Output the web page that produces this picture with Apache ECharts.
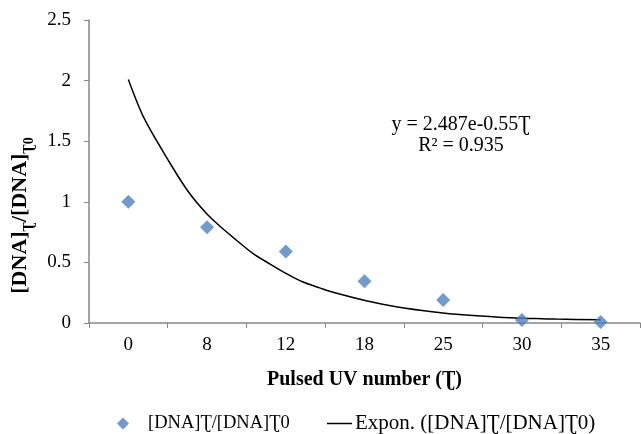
<!DOCTYPE html>
<html>
<head>
<meta charset="utf-8">
<script src="https://cdn.jsdelivr.net/npm/echarts@6/dist/echarts.min.js"></script>
<style>html,body{margin:0;padding:0;background:#fff}#c{width:641px;height:434px}</style>
</head>
<body>
<div id="c"></div>
<script>
var categories = ['0', '8', '12', '18', '25', '30', '35'];
var ratioValues = [1.0, 0.79, 0.59, 0.345, 0.19, 0.025, 0.008];
// trendline: [category position, value]
var trendX = [0, 0.2, 0.53, 0.76, 0.99, 1.16, 1.37, 1.58, 1.79, 2.0, 2.21, 2.43, 2.6, 3.02, 3.44, 3.86, 4.29, 4.71, 5.13, 5.43, 6.0];
var trendY = [2.01, 1.69, 1.318, 1.085, 0.905, 0.80, 0.685, 0.575, 0.49, 0.41, 0.34, 0.29, 0.253, 0.184, 0.13, 0.093, 0.065, 0.048, 0.038, 0.032, 0.027];
var yTicks = [0, 0.5, 1, 1.5, 2, 2.5];
var TAU = '\u01AE';
var seriesName = '[DNA]' + TAU + '/[DNA]' + TAU + '0';
var trendName = 'Expon. ([DNA]' + TAU + '/[DNA]' + TAU + '0)';

var trendData = trendX.map(function (x, i) { return [x, trendY[i]]; });
var FONT = 'Liberation Serif';
var AXIS = '#868686';

var chart = echarts.init(document.getElementById('c'), null, {renderer: 'canvas'});
chart.setOption({
  animation: false,
  textStyle: {fontFamily: FONT},
  grid: {left: 89, right: 1, top: 20, bottom: 111},
  xAxis: [{
    type: 'category',
    data: categories,
    boundaryGap: true,
    axisLine: {lineStyle: {color: AXIS, width: 1.5}},
    axisTick: {show: true, length: 5, lineStyle: {color: AXIS}},
    axisLabel: {color: '#000', fontSize: 19, fontFamily: FONT, margin: 13},
    name: 'Pulsed UV number (' + TAU + ')',
    nameLocation: 'middle',
    nameGap: 47,
    nameTextStyle: {color: '#000', fontSize: 20, fontWeight: 'bold', fontFamily: FONT}
  }, {
    type: 'value',
    min: -0.5,
    max: 6.5,
    show: false
  }],
  yAxis: {
    type: 'value',
    min: 0,
    max: 2.5,
    interval: 0.5,
    splitLine: {show: false},
    axisLine: {show: true, onZero: false, lineStyle: {color: AXIS, width: 1.5}},
    axisTick: {show: true, length: 5, lineStyle: {color: AXIS}},
    axisLabel: {
      color: '#000', fontSize: 19, fontFamily: FONT, margin: 18,
      formatter: function (v) { return String(v); }
    },
    name: '{b|[DNA]}{s|' + TAU + '}{b|/[DNA]}{s|' + TAU + '0}',
    nameLocation: 'middle',
    nameGap: 58,
    nameTextStyle: {
      padding: [0, 88, 0, 0],
      rich: {
        b: {fontSize: 22, fontWeight: 'bold', fontFamily: FONT, color: '#000', lineHeight: 26, verticalAlign: 'bottom'},
        s: {fontSize: 14, fontWeight: 'bold', fontFamily: FONT, color: '#000', lineHeight: 26, verticalAlign: 'bottom', padding: [0, 0, -5, 0]}
      }
    }
  },
  legend: [{
    data: [{name: seriesName, icon: 'diamond'}],
    left: 112, top: 409,
    itemWidth: 12, itemHeight: 12,
    textStyle: {fontSize: 18.5, fontFamily: FONT, color: '#000', padding: [0, 0, 0, 14]}
  }, {
    data: [{name: trendName, icon: 'rect'}],
    left: 322, top: 408,
    itemWidth: 25, itemHeight: 1.5,
    itemStyle: {color: '#000'},
    textStyle: {fontSize: 21, fontFamily: FONT, color: '#000', padding: [0, 0, 0, -2]}
  }],
  graphic: [{
    type: 'text', x: 461, y: 125,
    style: {text: 'y = 2.487e-0.55' + TAU, font: '20px "Liberation Serif"', fill: '#000', align: 'center', verticalAlign: 'middle'}
  }, {
    type: 'text', x: 461, y: 146,
    style: {text: 'R\u00B2 = 0.935', font: '20px "Liberation Serif"', fill: '#000', align: 'center', verticalAlign: 'middle'}
  }],
  series: [{
    name: seriesName,
    type: 'scatter',
    data: ratioValues,
    symbol: 'diamond',
    symbolSize: 14,
    itemStyle: {color: '#4F81BD'},
    z: 3
  }, {
    name: trendName,
    type: 'line',
    xAxisIndex: 1,
    data: trendData,
    symbol: 'none',
    smooth: 0.3,
    lineStyle: {color: '#000', width: 1.5},
    itemStyle: {color: '#000'},
    z: 2
  }]
});
</script>
</body>
</html>
